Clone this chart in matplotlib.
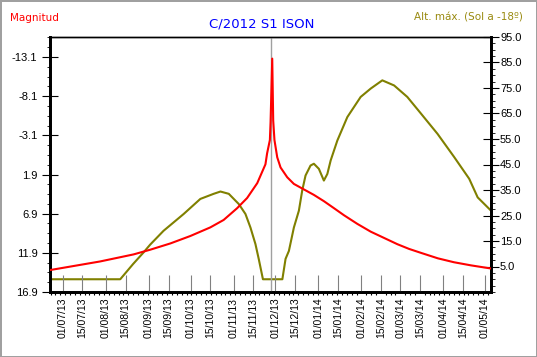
import matplotlib
matplotlib.use("Agg")
import matplotlib.pyplot as plt
import matplotlib.dates as mdates
from matplotlib.ticker import AutoMinorLocator, FixedLocator
import numpy as np
import datetime as dt

# days counted from 01/07/2013
t0 = dt.datetime(2013, 7, 1)

mag_days = [-9.4, 26.7, 50.8, 62.8, 77.3, 91.7, 106.1, 115.7, 125.4, 132.6, 139.9, 145.8,
            147, 149, 149.5, 150.7, 151.4, 152.3, 154.3, 156.7, 161.5, 166.3, 173.5, 180.7,
            187.9, 195.2, 202.4, 212, 221.7, 231.3, 240.9, 249.3, 257.8, 270, 281.6, 293.9,
            308.3]
mag_vals = [14.1, 13.0, 12.1, 11.5, 10.7, 9.75, 8.65, 7.7, 6.2, 4.9, 3.0, 0.6,
            -0.8, -2.5, -4.8, -12.9, -5.0, -2.5, -0.3, 1.0, 2.25, 3.1, 3.8, 4.5,
            5.3, 6.2, 7.1, 8.2, 9.2, 10.0, 10.8, 11.4, 11.9, 12.6, 13.1, 13.5,
            13.9]

alt_days = [-9.4, 41.2, 50.5, 57.8, 62.8, 72.4, 86.9, 98.9, 108.5, 113.4, 119.4, 126.6,
            131.4, 135, 138.6, 141, 144, 158, 160.3, 162.7, 166.3, 169.9, 172.3, 174.7,
            178.3, 180.7, 184.3, 187.9, 190.4, 192.8, 197.6, 204.8, 214.4, 221.7, 230,
            238.5, 248, 257.8, 269.8, 281.8, 292.6, 298.7, 308.3]
alt_vals = [0, 0, 6, 10.4, 13.6, 19, 25.6, 31.5, 33.5, 34.4, 33.5, 29.5,
            25.6, 20.3, 13.8, 7.9, 0, 0, 8, 11.1, 20.3, 26.9, 34.8, 40.7,
            44.6, 45.3, 43.3, 38.7, 41.3, 46.6, 54.4, 63.6, 71.5, 74.8, 78,
            76, 71.5, 65, 57, 47.9, 39.4, 32.1, 26.9]

perihelion = dt.datetime(2013, 11, 28)
mag_ticks = [-13.1, -8.1, -3.1, 1.9, 6.9, 11.9, 16.9]
alt_ticks = [5, 15, 25, 35, 45, 55, 65, 75, 85, 95]


def to_dates(days):
    return [t0 + dt.timedelta(days=d) for d in days]


fig = plt.figure(figsize=(5.37, 3.57), dpi=100)
fig.patch.set_edgecolor('#a0a0a0')
fig.patch.set_linewidth(2)
ax = fig.add_axes([50 / 537, 1 - 292 / 357, 441 / 537, 255 / 357])
ax2 = ax.twinx()

ax.plot(to_dates(mag_days), mag_vals, color='red', lw=1.5, zorder=3)
ax2.plot(to_dates(alt_days), alt_vals, color='#808000', lw=1.5)
ax.axvline(perihelion, color='#a0a0a0', lw=1, zorder=1)
ax.set_zorder(ax2.get_zorder() + 1)
ax.patch.set_visible(False)

ax.set_xlim(t0 - dt.timedelta(days=9.4), t0 + dt.timedelta(days=308.3))
ax.set_ylim(16.9, -15.66)
ax2.set_ylim(-5, 95)

# x ticks on 1st and 15th of each month
xt = []
for m in range(7, 18):
    y = 2013 + (m - 1) // 12
    mm = (m - 1) % 12 + 1
    xt.append(dt.datetime(y, mm, 1))
    xt.append(dt.datetime(y, mm, 15))
xt = [d for d in xt if d <= dt.datetime(2014, 5, 1)]
minor_x = [mdates.date2num(t0) + d for d in np.arange(-9.0, 308.0, 3.5)]
ax.xaxis.set_minor_locator(FixedLocator(minor_x))
ax.set_xticks(mdates.date2num(xt))
ax.set_xticklabels([d.strftime('%d/%m/%y') for d in xt], rotation=90, fontsize=7.5,
                   family='Liberation Sans')
ax.tick_params(axis='x', which='major', direction='in', length=12, color='#808080',
               pad=4)
ax.tick_params(axis='x', which='minor', direction='out', length=2.5, width=0.8)

ax.set_yticks(mag_ticks)
ax.set_yticklabels(['%.1f' % v for v in mag_ticks], family='Liberation Sans')
ax.yaxis.set_minor_locator(AutoMinorLocator(4))
ax.tick_params(axis='y', which='major', direction='inout', length=11, labelsize=8)
ax.tick_params(axis='y', which='minor', direction='out', length=2)

ax2.set_yticks(alt_ticks)
ax2.set_yticklabels(['%.1f' % v for v in alt_ticks], family='Liberation Sans')
ax2.yaxis.set_minor_locator(AutoMinorLocator(4))
ax2.tick_params(axis='y', which='major', direction='inout', length=11, labelsize=8, pad=1)
ax2.tick_params(axis='y', which='minor', direction='out', length=3)

for a in (ax, ax2):
    a.spines['left'].set_linewidth(2)
    a.spines['bottom'].set_linewidth(2)
    a.spines['right'].set_linewidth(2)
    a.spines['top'].set_linewidth(1)

fig.text(10 / 537, 1 - 18 / 357, 'Magnitud', color='red', fontsize=7.5, va='center')
fig.text(262 / 537, 1 - 24 / 357, 'C/2012 S1 ISON', color='blue', fontsize=9.5,
         ha='center', va='center')
fig.text(523 / 537, 1 - 18 / 357, 'Alt. máx. (Sol a -18º)', color='#998a10',
         fontsize=7.5, ha='right', va='center')

fig.savefig('out.png', dpi=100)
